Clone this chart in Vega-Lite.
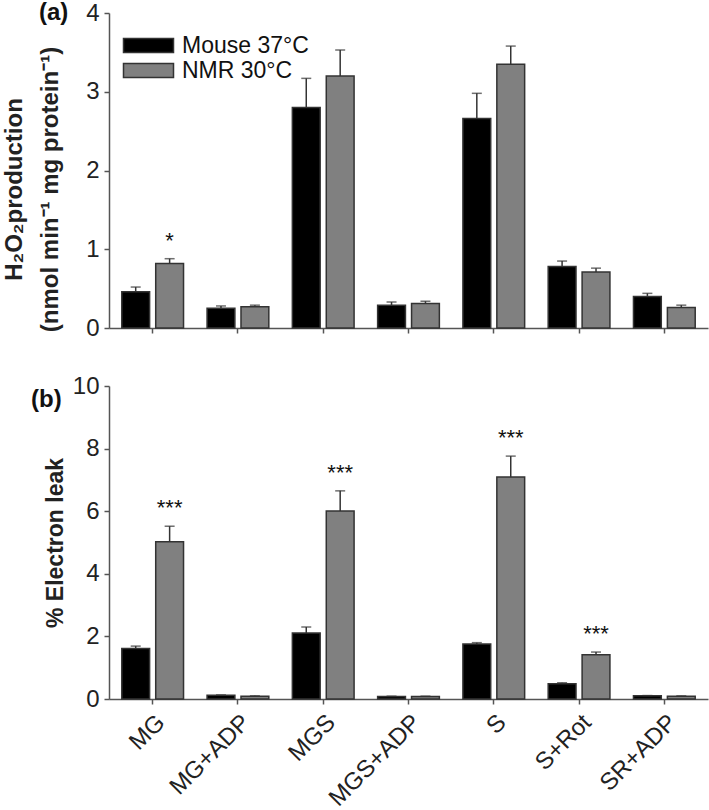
{
  "$schema": "https://vega.github.io/schema/vega-lite/v6.json",
  "padding": {"left": 2, "top": 1, "right": 3, "bottom": 0},
  "background": "white",
  "config": {
    "font": "Liberation Sans",
    "view": {"stroke": null},
    "axis": {"grid": false, "domainColor": "#555555", "tickColor": "#555555", "labelColor": "#222222", "labelFontSize": 24, "titleFontSize": 24, "titleFontWeight": "bold", "titleColor": "#222222", "tickSize": 5, "domainWidth": 1.5, "tickWidth": 1.5, "labelPadding": 5}
  },
  "data": {"values": [
    {"cond": "MG", "species": "Mouse 37°C", "h2o2": 0.46, "h2o2hi": 0.52, "leak": 1.61, "leakhi": 1.69, "sigA": "", "sigB": ""},
    {"cond": "MG", "species": "NMR 30°C", "h2o2": 0.82, "h2o2hi": 0.88, "leak": 5.02, "leakhi": 5.52, "sigA": "*", "sigB": "***"},
    {"cond": "MG+ADP", "species": "Mouse 37°C", "h2o2": 0.25, "h2o2hi": 0.28, "leak": 0.12, "leakhi": 0.13, "sigA": "", "sigB": ""},
    {"cond": "MG+ADP", "species": "NMR 30°C", "h2o2": 0.27, "h2o2hi": 0.29, "leak": 0.09, "leakhi": 0.1, "sigA": "", "sigB": ""},
    {"cond": "MGS", "species": "Mouse 37°C", "h2o2": 2.8, "h2o2hi": 3.17, "leak": 2.11, "leakhi": 2.3, "sigA": "", "sigB": ""},
    {"cond": "MGS", "species": "NMR 30°C", "h2o2": 3.2, "h2o2hi": 3.53, "leak": 6.01, "leakhi": 6.65, "sigA": "", "sigB": "***"},
    {"cond": "MGS+ADP", "species": "Mouse 37°C", "h2o2": 0.29, "h2o2hi": 0.33, "leak": 0.08, "leakhi": 0.09, "sigA": "", "sigB": ""},
    {"cond": "MGS+ADP", "species": "NMR 30°C", "h2o2": 0.31, "h2o2hi": 0.34, "leak": 0.08, "leakhi": 0.09, "sigA": "", "sigB": ""},
    {"cond": "S", "species": "Mouse 37°C", "h2o2": 2.66, "h2o2hi": 2.98, "leak": 1.76, "leakhi": 1.8, "sigA": "", "sigB": ""},
    {"cond": "S", "species": "NMR 30°C", "h2o2": 3.35, "h2o2hi": 3.58, "leak": 7.09, "leakhi": 7.76, "sigA": "", "sigB": "***"},
    {"cond": "S+Rot", "species": "Mouse 37°C", "h2o2": 0.78, "h2o2hi": 0.85, "leak": 0.49, "leakhi": 0.52, "sigA": "", "sigB": ""},
    {"cond": "S+Rot", "species": "NMR 30°C", "h2o2": 0.71, "h2o2hi": 0.76, "leak": 1.41, "leakhi": 1.5, "sigA": "", "sigB": "***"},
    {"cond": "SR+ADP", "species": "Mouse 37°C", "h2o2": 0.4, "h2o2hi": 0.44, "leak": 0.1, "leakhi": 0.11, "sigA": "", "sigB": ""},
    {"cond": "SR+ADP", "species": "NMR 30°C", "h2o2": 0.26, "h2o2hi": 0.29, "leak": 0.09, "leakhi": 0.1, "sigA": "", "sigB": ""}
  ]},
  "spacing": 34,
  "vconcat": [
    {
      "width": 599,
      "height": 315,
      "title": {"text": "(a)", "anchor": "start", "frame": "group", "fontSize": 24, "fontWeight": "bold", "color": "#111111", "dx": -70, "dy": 24, "offset": 0},
      "encoding": {
        "x": {"field": "cond", "type": "nominal", "sort": null, "scale": {"paddingInner": 0.276, "paddingOuter": 0.15}, "axis": {"labels": false, "title": null}},
        "xOffset": {"field": "species", "type": "nominal", "scale": {"paddingInner": 0.18}}
      },
      "layer": [
        {
          "mark": {"type": "bar", "stroke": "#333333", "strokeWidth": 1.5},
          "encoding": {
            "y": {"field": "h2o2", "type": "quantitative", "scale": {"domain": [0, 4], "nice": false}, "axis": {"values": [0, 1, 2, 3, 4], "format": "d", "title": ["H₂O₂production", "(nmol min⁻¹ mg protein⁻¹)"], "titleFontSize": 24, "titleLineHeight": 36, "titlePadding": 23, "titleY": 176}},
            "fill": {"field": "species", "type": "nominal", "scale": {"range": ["#000000", "#808080"]}, "legend": {"title": null, "orient": "none", "legendX": 28, "legendY": 21, "labelFontSize": 23, "labelColor": "#111111", "symbolType": "M-5,-1.4H5V1.4H-5Z", "symbolSize": 100, "symbolStrokeColor": "#333333", "symbolStrokeWidth": 1.5, "rowPadding": 1, "labelOffset": 22}}
          }
        },
        {
          "mark": {"type": "rule", "color": "#333333", "strokeWidth": 1.5},
          "encoding": {"y": {"field": "h2o2", "type": "quantitative"}, "y2": {"field": "h2o2hi"}}
        },
        {
          "mark": {"type": "tick", "color": "#333333", "thickness": 1.5, "size": 10},
          "encoding": {"y": {"field": "h2o2hi", "type": "quantitative"}}
        },
        {
          "transform": [{"filter": "datum.sigA != ''"}],
          "mark": {"type": "text", "fontSize": 22, "dy": -18, "color": "#111111"},
          "encoding": {"y": {"field": "h2o2hi", "type": "quantitative"}, "text": {"field": "sigA"}}
        }
      ]
    },
    {
      "width": 599,
      "height": 313,
      "title": {"text": "(b)", "anchor": "start", "frame": "group", "fontSize": 24, "fontWeight": "bold", "color": "#111111", "dx": -78, "dy": 38, "offset": 0},
      "encoding": {
        "x": {"field": "cond", "type": "nominal", "sort": null, "scale": {"paddingInner": 0.276, "paddingOuter": 0.15}, "axis": {"labelAngle": -45, "title": null, "labelPadding": 6, "labelFontSize": 24}},
        "xOffset": {"field": "species", "type": "nominal", "scale": {"paddingInner": 0.18}}
      },
      "layer": [
        {
          "mark": {"type": "bar", "stroke": "#333333", "strokeWidth": 1.5},
          "encoding": {
            "y": {"field": "leak", "type": "quantitative", "scale": {"domain": [0, 10], "nice": false}, "axis": {"values": [0, 2, 4, 6, 8, 10], "format": "d", "title": "% Electron leak", "titleFontSize": 23, "titlePadding": 5}},
            "fill": {"field": "species", "type": "nominal", "scale": {"range": ["#000000", "#808080"]}, "legend": null}
          }
        },
        {
          "mark": {"type": "rule", "color": "#333333", "strokeWidth": 1.5},
          "encoding": {"y": {"field": "leak", "type": "quantitative"}, "y2": {"field": "leakhi"}}
        },
        {
          "mark": {"type": "tick", "color": "#333333", "thickness": 1.5, "size": 10},
          "encoding": {"y": {"field": "leakhi", "type": "quantitative"}}
        },
        {
          "transform": [{"filter": "datum.sigB != ''"}],
          "mark": {"type": "text", "fontSize": 22, "dy": -18, "color": "#111111"},
          "encoding": {"y": {"field": "leakhi", "type": "quantitative"}, "text": {"field": "sigB"}}
        }
      ]
    }
  ]
}
